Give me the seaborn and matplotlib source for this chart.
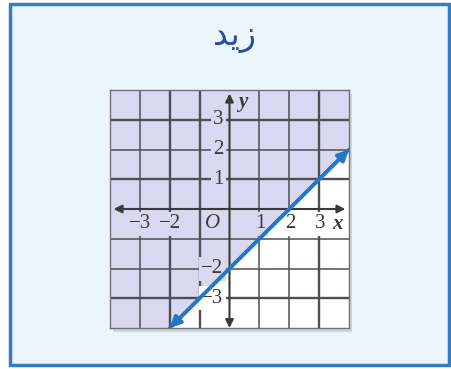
import numpy as np
import matplotlib
matplotlib.use("Agg")
import matplotlib.pyplot as plt
import seaborn as sns
from matplotlib.patches import Rectangle

# ---- data ----
title_text = "زيد"
# Arabic presentation forms in visual (left-to-right) order, since matplotlib does not shape Arabic
title_display = "\ufeaa\ufef3\ufeaf"
line_x = [-2, 4]          # boundary line y = x - 2, endpoints
line_y = [-4, 2]
grid_vals = [-3, -2, -1, 1, 2, 3]
x_tick_vals = [-3, -2, 1, 2, 3]
x_tick_labels = ["−3", "−2", "1", "2", "3"]
y_tick_vals = [3, 2, 1, -2, -3]
y_tick_labels = ["3", "2", "1", "−2", "−3"]
lim = [-4, 4]

shade = "#d9d8f0"
blue = "#2277c8"
gridc = "#4e4e58"
textc = "#3a3a3a"

sns.set_style("white")
plt.rcParams["font.family"] = ["Liberation Serif", "DejaVu Sans"]

fig = plt.figure(figsize=(4.51, 3.69), dpi=100)
fig.patch.set_facecolor("white")

# outer framed box
box = Rectangle((10 / 451, 4 / 369), 439 / 451, 361 / 369, transform=fig.transFigure,
                facecolor="#eaf5fc", edgecolor="#3a7cc0", lw=2.5, zorder=-3)
fig.patches.append(box)
# shadow under the graph panel
shadow = Rectangle((113 / 451, 37 / 369), 239 / 451, 238 / 369, transform=fig.transFigure,
                   facecolor="#9a9aa0", edgecolor="none", alpha=0.35, zorder=-2)
fig.patches.append(shadow)

fig.text(0.521, 0.902, title_display, ha="center", va="center", fontsize=24,
         color="#2b4c9a", fontweight="normal", family="DejaVu Sans")

ax = fig.add_axes([110 / 451, 41 / 369, 239 / 451, 238 / 369])
ax.set_facecolor("white")
ax.set_xlim(lim)
ax.set_ylim(lim)

# shaded half-plane above the line
fx = [lim[0]] + line_x
fy = [lim[0]] + line_y
ax.fill_between(fx, fy, lim[1], color=shade, lw=0, zorder=0)

# grid
thick = {3, 1, -3}
thickv = {-2, -1, 3}
for v in grid_vals:
    ax.axhline(v, color=gridc, lw=1.7 if v in thick else 1.1, zorder=1)
    ax.axvline(v, color=gridc, lw=1.7 if v in thickv else 1.1, zorder=1)

for s in ax.spines.values():
    s.set_color("#707078")
    s.set_linewidth(1.0)
ax.set_xticks([])
ax.set_yticks([])

def region_color(x, y):
    return shade if y > np.interp(x, line_x, line_y, left=-99, right=99) else "white"

# tick labels (with background that hides the grid behind them)
for v, lab in zip(x_tick_vals, x_tick_labels):
    xx = v + (0.02 if v > 0 else 0)
    ax.text(xx, -0.5, lab, ha="center", va="center", fontsize=15, color=textc, zorder=3,
            bbox=dict(boxstyle="square,pad=0.12", fc=region_color(xx, -0.5), ec="none"))
ax.text(-0.57, -0.5, "O", ha="center", va="center", fontsize=15, color=textc,
        fontstyle="italic", zorder=3,
        bbox=dict(boxstyle="square,pad=0.12", fc=shade, ec="none"))
ax.text(3.62, -0.5, "x", ha="center", va="center", fontsize=15, color=textc,
        fontstyle="italic", fontweight="bold", zorder=3)
for v, lab in zip(y_tick_vals, y_tick_labels):
    ax.text(-0.2, v, lab, ha="right", va="center", fontsize=15, color=textc, zorder=3,
            bbox=dict(boxstyle="square,pad=0.12", fc=region_color(-0.45, v), ec="none"))
ax.text(0.45, 3.6, "y", ha="center", va="center", fontsize=15, color=textc,
        fontstyle="italic", fontweight="bold", zorder=3)

# axes with arrows
ax.annotate("", xy=(3.88, 0), xytext=(-3.88, 0),
            arrowprops=dict(arrowstyle="<|-|>", color="#3a3a3a", lw=1.5,
                            mutation_scale=12, shrinkA=0, shrinkB=0), zorder=4)
ax.annotate("", xy=(0, 3.88), xytext=(0, -4.0),
            arrowprops=dict(arrowstyle="<|-|>", color="#3a3a3a", lw=1.5,
                            mutation_scale=12, shrinkA=0, shrinkB=0), zorder=4)

# boundary line with arrowheads
sns.lineplot(x=line_x, y=line_y, ax=ax, color=blue, lw=2.6, zorder=5)
ax.annotate("", xy=(line_x[1], line_y[1]), xytext=(line_x[0], line_y[0]),
            arrowprops=dict(arrowstyle="<|-|>", color=blue, lw=2.6,
                            mutation_scale=16, shrinkA=0, shrinkB=0),
            annotation_clip=False, zorder=6)

fig.savefig("out.png", dpi=100)
